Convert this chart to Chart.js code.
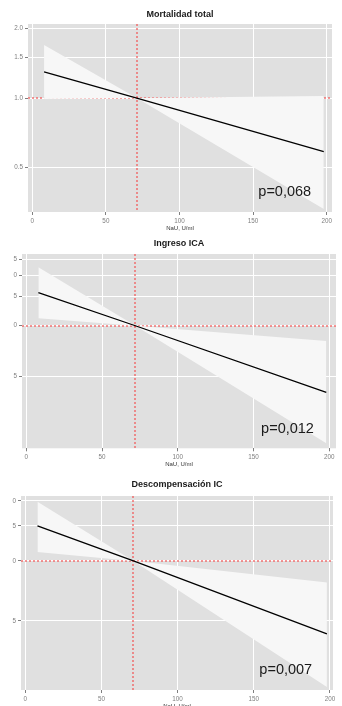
<!DOCTYPE html>
<html>
<head>
<meta charset="utf-8">
<script src="https://cdn.jsdelivr.net/npm/chart.js@4.4.0/dist/chart.umd.min.js"></script>
<style>
  html, body { margin: 0; padding: 0; background: #fff; overflow: hidden; }
  .panel { position: absolute; left: 0; width: 342px; }
</style>
</head>
<body>
<div class="panel" style="top:0px;height:240px"><canvas id="c0"></canvas></div>
<div class="panel" style="top:230px;height:240px"><canvas id="c1"></canvas></div>
<div class="panel" style="top:472px;height:245px"><canvas id="c2"></canvas></div>
<script>
// values
const titles = ['Mortalidad total', 'Ingreso ICA', 'Descompensación IC'];
const pLabels = ['p=0,068', 'p=0,012', 'p=0,007'];
const naU = [[8, 71, 198], [8, 72, 198], [8, 71, 198]];
const hr = [[1.30, 1.00, 0.585], [1.58, 1.00, 0.40], [1.50, 1.00, 0.43]];
const ciHigh = [[1.70, 1.00, 1.02], [2.24, 1.00, 0.81], [1.98, 1.00, 0.78]];
const ciLow = [[0.99, 1.00, 0.33], [1.11, 1.00, 0.198], [1.11, 1.00, 0.233]];
const refNaU = [71, 72, 71];
const refHR = 1;
const xTicks = [0, 50, 100, 150, 200];
const yTicks = [[0.5, 1.0, 1.5, 2.0], [0.5, 1.0, 1.5, 2.0, 2.5], [0.5, 1.0, 1.5, 2.0]];
// the left side of the labels is cut off in panels 2 and 3
const yTickLabels = [['0.5', '1.0', '1.5', '2.0'], ['5', '0', '5', '0', '5'], ['5', '0', '5', '0']];
const xTitle = 'NaU, U/ml';

// panel geometry
const panels = [
  { xMin: -2.9, xMax: 203.6, yMin: 0.320, yMax: 2.096, yw: 28, padR: 10, padB: 8, tTop: 9.6, tBot: 3.6, pAt: [171.5, 0.392] },
  { xMin: -2.8, xMax: 204.4, yMin: 0.185, yMax: 2.686, yw: 22, padR: 6, padB: 1.7, tTop: 8.6, tBot: 4.6, pAt: [172.4, 0.241] },
  { xMin: -2.8, xMax: 202.0, yMin: 0.225, yMax: 2.118, yw: 21, padR: 9, padB: 7, tTop: 7.6, tBot: 5.6, pAt: [171, 0.284] }
];

const FONT = '"Liberation Sans", Arial, sans-serif';

const panelPlugin = {
  id: 'panelDeco',
  beforeDraw(chart) {
    const a = chart.chartArea;
    const ctx = chart.ctx;
    ctx.save();
    ctx.fillStyle = '#e0e0e0';
    ctx.fillRect(a.left, a.top, a.right - a.left, a.bottom - a.top);
    ctx.restore();
  },
  beforeDatasetsDraw(chart, args, opts) {
    const a = chart.chartArea;
    const ctx = chart.ctx;
    // sitting on a pixel edge spreads the dots over two columns, like the soft original
    const x = Math.round(chart.scales.x.getPixelForValue(opts.refX));
    const y = Math.round(chart.scales.y.getPixelForValue(opts.refY));
    ctx.save();
    ctx.strokeStyle = '#f25252';
    ctx.lineWidth = 1.2;
    ctx.setLineDash([2, 2]);
    ctx.beginPath();
    ctx.moveTo(x, a.top);
    ctx.lineTo(x, a.bottom);
    ctx.stroke();
    ctx.beginPath();
    ctx.moveTo(a.left, y);
    ctx.lineTo(a.right, y);
    ctx.stroke();
    ctx.restore();
  },
  afterDatasetsDraw(chart, args, opts) {
    const ctx = chart.ctx;
    ctx.save();
    ctx.fillStyle = '#1a1a1a';
    ctx.font = '14.5px ' + FONT;
    ctx.textAlign = 'center';
    ctx.textBaseline = 'middle';
    ctx.fillText(opts.label, chart.scales.x.getPixelForValue(opts.at[0]), chart.scales.y.getPixelForValue(opts.at[1]));
    ctx.restore();
  }
};

function points(xs, ys) {
  return xs.map((x, i) => ({ x: x, y: ys[i] }));
}

panels.forEach(function (p, k) {
  new Chart(document.getElementById('c' + k), {
    type: 'line',
    data: {
      datasets: [
        { data: points(naU[k], hr[k]), borderColor: '#000', borderWidth: 1.3, pointRadius: 0, fill: false },
        { data: points(naU[k], ciHigh[k]), borderWidth: 0, borderColor: 'rgba(0,0,0,0)', pointRadius: 0, fill: false },
        { data: points(naU[k], ciLow[k]), borderWidth: 0, borderColor: 'rgba(0,0,0,0)', pointRadius: 0, fill: '-1', backgroundColor: '#f7f7f7' }
      ]
    },
    options: {
      responsive: true,
      maintainAspectRatio: false,
      animation: false,
      layout: { padding: { left: 0, top: 0, right: p.padR, bottom: p.padB } },
      plugins: {
        legend: { display: false },
        tooltip: { enabled: false },
        title: {
          display: true,
          text: titles[k],
          fullSize: false,
          color: '#1a1a1a',
          font: { family: FONT, size: 9, weight: 'bold', lineHeight: 1.2 },
          padding: { top: p.tTop, bottom: p.tBot }
        },
        panelDeco: { refX: refNaU[k], refY: refHR, label: pLabels[k], at: p.pAt }
      },
      scales: {
        x: {
          type: 'linear',
          min: p.xMin,
          max: p.xMax,
          bounds: 'data',
          afterBuildTicks: function (scale) { scale.ticks = xTicks.map(v => ({ value: v })); },
          afterFit: function (scale) { scale.height = 20; },
          grid: { color: '#ffffff', lineWidth: 1, tickColor: '#7f7f7f', tickLength: 3 },
          border: { display: false },
          ticks: { autoSkip: false, maxRotation: 0, padding: 2, color: '#7f7f7f', font: { family: FONT, size: 6.3 } },
          title: { display: true, text: xTitle, color: '#333', padding: 0, font: { family: FONT, size: 6, lineHeight: 1.2 } }
        },
        y: {
          type: 'logarithmic',
          min: p.yMin,
          max: p.yMax,
          bounds: 'data',
          afterBuildTicks: function (scale) { scale.ticks = yTicks[k].map(v => ({ value: v })); },
          afterFit: function (scale) { scale.width = p.yw; },
          grid: { color: '#ffffff', lineWidth: 1, tickColor: '#7f7f7f', tickLength: 3 },
          border: { display: false },
          ticks: {
            autoSkip: false,
            padding: 2,
            color: '#7f7f7f',
            font: { family: FONT, size: 6.3 },
            callback: function (value, index) { return yTickLabels[k][index]; }
          }
        }
      }
    },
    plugins: [panelPlugin]
  });
});
</script>
</body>
</html>
